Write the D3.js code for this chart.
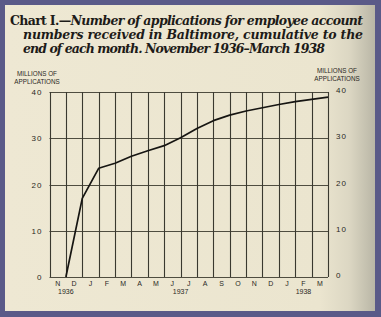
<!DOCTYPE html>
<html><head><meta charset="utf-8">
<script src="https://cdn.jsdelivr.net/npm/d3@7"></script>
<style>html,body{margin:0;padding:0;background:#5a5a88;}svg{display:block;}</style>
</head><body>
<script>
const months = ["N","D","J","F","M","A","M","J","J","A","S","O","N","D","J","F","M"];
const values = [0, 17.0, 23.5, 24.6, 26.1, 27.3, 28.4, 30.1, 32.1, 33.8, 35.0, 35.9, 36.6, 37.3, 37.9, 38.4, 38.9];
const yearLabels = ["1936", "1937", "1938"];
const yearMonthIndex = [0.5, 7.5, 15];
const yTicks = [0, 10, 20, 30, 40];
const titleLines = [
  ["Chart I.—", "Number of applications for employee account"],
  ["", "numbers received in Baltimore, cumulative to the"],
  ["", "end of each month. November 1936–March 1938"]
];
const axisTitle = ["MILLIONS OF", "APPLICATIONS"];

const W = 381, H = 317;
const svg = d3.select("body").append("svg").attr("width", W).attr("height", H);
const defs = svg.append("defs");
const g1 = defs.append("linearGradient").attr("id", "paper").attr("x1", 0).attr("x2", 1).attr("y1", 0).attr("y2", 0);
g1.append("stop").attr("offset", "0%").attr("stop-color", "#eee8d3");
g1.append("stop").attr("offset", "85%").attr("stop-color", "#ebe5cf");
g1.append("stop").attr("offset", "93%").attr("stop-color", "#dcd7c3");
g1.append("stop").attr("offset", "100%").attr("stop-color", "#b9b6a6");

svg.append("rect").attr("width", W).attr("height", H).attr("fill", "#5a5a88");
svg.append("rect").attr("x", 5).attr("y", 5).attr("width", 370).attr("height", 306).attr("fill", "url(#paper)");

// Title
const tl = svg.append("g").attr("font-family", "'DejaVu Serif', serif").attr("font-weight", "bold").attr("font-size", 12.5).attr("fill", "#1d1b18");
const lineX = [10, 23, 23], lineY = [25, 39, 53], lineLen = [353, 340, 302];
titleLines.forEach((ln, i) => {
  const t = tl.append("text").attr("x", lineX[i]).attr("y", lineY[i])
    .attr("textLength", lineLen[i]).attr("lengthAdjust", "spacing");
  if (ln[0]) t.append("tspan").text(ln[0]);
  t.append("tspan").attr("font-style", "italic").text(ln[1]);
});

const x = d3.scaleBand().domain(d3.range(months.length)).range([49.5, 328]).padding(0);
const y = d3.scaleLinear().domain([0, 40]).range([277, 92]);
const bw = x.bandwidth();
const xEdge = i => x(i) + bw;

const grid = svg.append("g").attr("stroke-width", 1.1).attr("fill", "none");
grid.selectAll("line.h").data(yTicks).join("line")
  .attr("x1", x.range()[0]).attr("x2", x.range()[1])
  .attr("y1", d => Math.round(y(d)) + 0.5).attr("y2", d => Math.round(y(d)) + 0.5)
  .attr("stroke", "#4f4d40");
grid.selectAll("line.v").data(d3.range(months.length + 1)).join("line")
  .attr("x1", i => Math.round(i < months.length ? x(i) : x.range()[1]) + 0.5)
  .attr("x2", i => Math.round(i < months.length ? x(i) : x.range()[1]) + 0.5)
  .attr("y1", y(40)).attr("y2", y(0))
  .attr("stroke", "#3a392f");

const lab = svg.append("g").attr("font-family", "'Liberation Sans', Arial, sans-serif").attr("fill", "#2a2824").attr("font-size", 7);
const leftAxis = d3.axisLeft(y).tickValues(yTicks).tickSize(0).tickPadding(7);
const la = svg.append("g").attr("transform", "translate(49.5,0)").call(leftAxis);
la.select(".domain").remove();
la.selectAll("text").attr("font-family", "'Liberation Sans', Arial, sans-serif").attr("font-size", 8).attr("fill", "#2a2824").attr("letter-spacing", 1);
const rightAxis = d3.axisRight(y).tickValues(yTicks).tickSize(0).tickPadding(8);
const ra = svg.append("g").attr("transform", "translate(328,-2)").call(rightAxis);
ra.select(".domain").remove();
ra.selectAll("text").attr("font-family", "'Liberation Sans', Arial, sans-serif").attr("font-size", 8).attr("fill", "#2a2824").attr("letter-spacing", 1);

const bottomAxis = d3.axisBottom(x).tickFormat(i => months[i]).tickSize(0).tickPadding(4);
const ba = svg.append("g").attr("transform", "translate(0,277)").call(bottomAxis);
ba.select(".domain").remove();
ba.selectAll("text").attr("font-family", "'Liberation Sans', Arial, sans-serif").attr("font-size", 7).attr("fill", "#2a2824");

lab.selectAll("text.yr").data(yearLabels).join("text")
  .attr("x", (d, i) => x(Math.floor(yearMonthIndex[i])) + bw * (yearMonthIndex[i] % 1 ? 1 : 0.5))
  .attr("y", 294).attr("text-anchor", "middle").attr("font-size", 7).text(d => d);

[[37, 76], [337, 73]].forEach(([cx, cy]) => {
  lab.append("text").attr("x", cx).attr("y", cy).attr("text-anchor", "middle").attr("font-size", 6.3).text(axisTitle[0]);
  lab.append("text").attr("x", cx).attr("y", cy + 8).attr("text-anchor", "middle").attr("font-size", 6.3).text(axisTitle[1]);
});

const line = d3.line().x((d, i) => xEdge(i)).y(d => y(d));
svg.append("path").datum(values).attr("d", line).attr("fill", "none").attr("stroke", "#161512").attr("stroke-width", 1.7).attr("stroke-linejoin", "round");
</script>
</body></html>
